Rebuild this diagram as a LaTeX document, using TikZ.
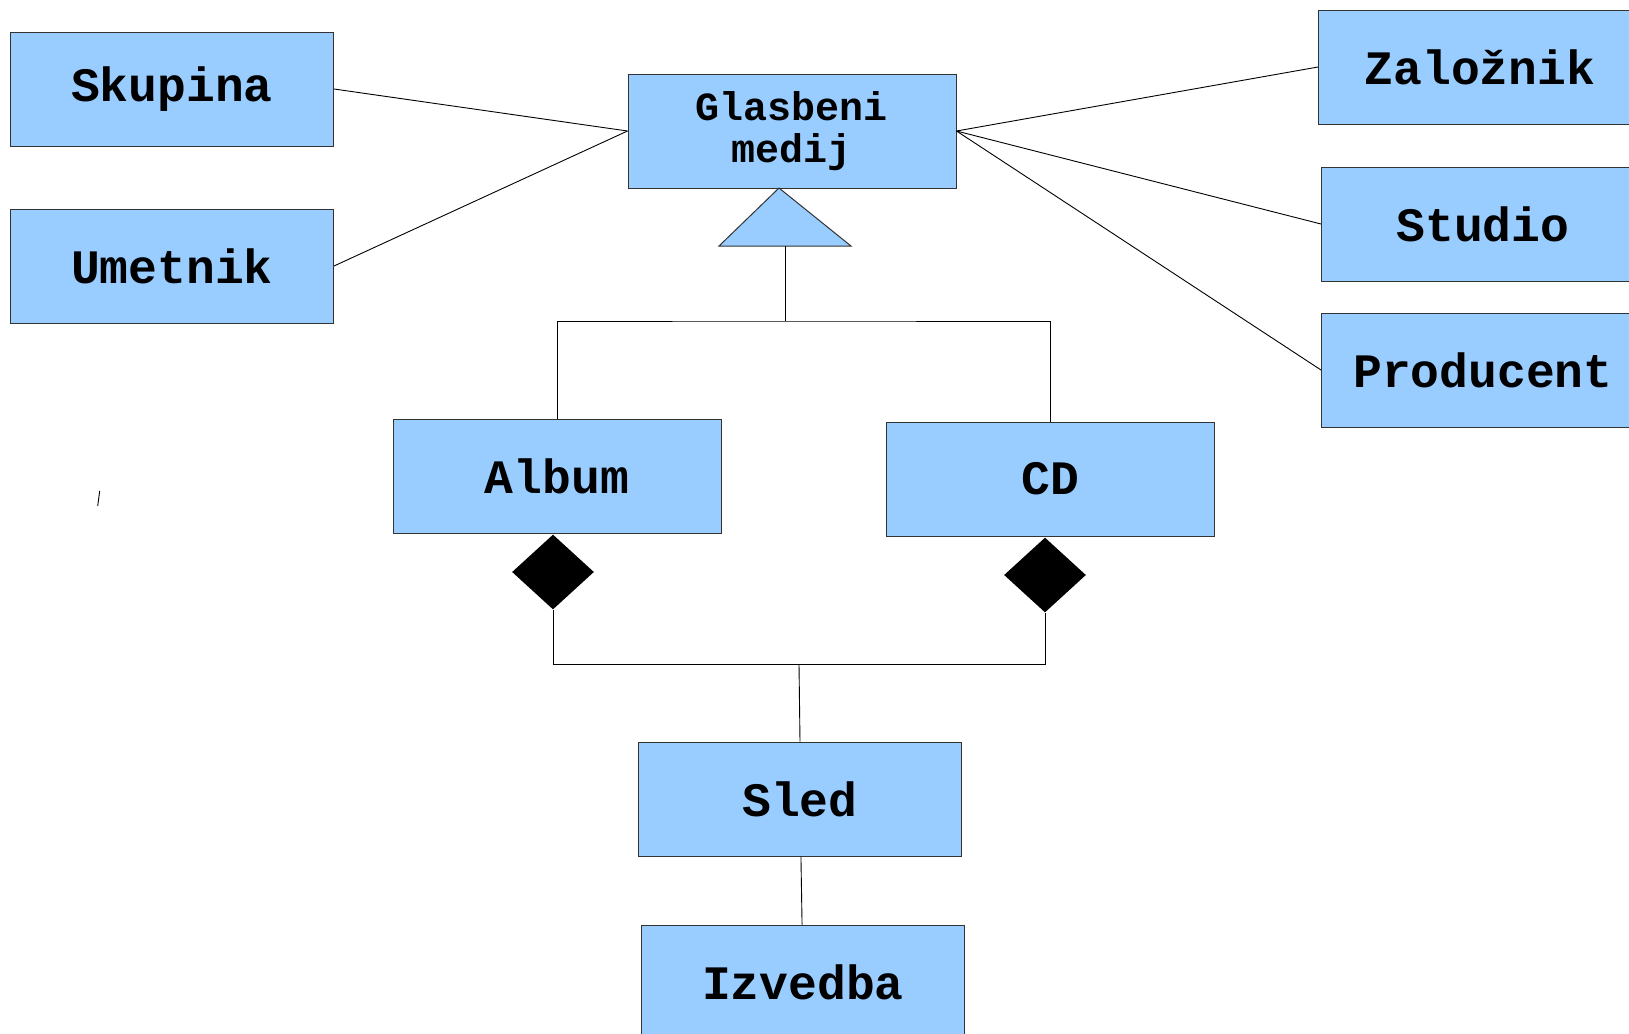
\documentclass[tikz,border=0pt]{standalone}
\usepackage{fontspec}
\setmonofont{Liberation Mono}
\usepackage{xcolor}
\usetikzlibrary{shapes.geometric}
\definecolor{boxblue}{HTML}{99CCFF}

\begin{document}
\begin{tikzpicture}[x=0.5pt,y=-0.5pt,
          entity/.style={draw=black!80,fill=boxblue,line width=0.5pt,
            minimum width=161.5pt,minimum height=57pt,inner sep=0pt,
            font=\ttfamily\bfseries\fontsize{24}{28}\selectfont,align=center},
          agg/.style={diamond,fill=black,inner sep=0pt,
            minimum width=41pt,minimum height=37.5pt},
          link/.style={line width=0.45pt}]
          \useasboundingbox (0,0) rectangle (1629,1034);
          \node[entity] (skupina) at (172,89) {Skupina};
          \node[entity] (umetnik) at (172,266) {Umetnik};
          \node[entity,minimum width=164pt,
            font=\ttfamily\bfseries\fontsize{20}{21}\selectfont] (medij) at (792,131) {Glasbeni\\medij};
          \node[entity,minimum width=164pt] (album) at (557,476) {Album};
          \node[entity,minimum width=164pt] (cd) at (1050,479) {CD};
          \node[entity] (sled) at (800,799) {Sled};
          \node[entity] (izvedba) at (803,982) {Izvedba};
          \node[entity] (zaloznik) at (1480,67) {Založnik};
          \node[entity] (studio) at (1483,224) {Studio};
          \node[entity] (producent) at (1483,370) {Producent};
          % associations
          \draw[link] (skupina.east) -- (medij.west);
          \draw[link] (umetnik.east) -- (medij.west);
          \draw[link] (medij.east) -- (zaloznik.west);
          \draw[link] (medij.east) -- (studio.west);
          \draw[link] (medij.east) -- (producent.west);
          % generalization
          \coordinate (tritop) at (779,188);
          \coordinate (tribase) at (785,246);
          \coordinate (gen) at (785,321);
          \draw[draw=black!80,fill=boxblue,line width=0.5pt] (tritop) -- (719,246) -- (851,246) -- cycle;
          \draw[link] (tribase) -- (gen);
          \draw[link] (album.north) |- (gen) -| (cd.north);
          % composition
          \node[agg] (dalbum) at (553,572) {};
          \node[agg] (dcd) at (1045,575) {};
          \coordinate (join) at (799,664);
          \draw[link] (dalbum.south) |- (join) -| (dcd.south);
          \draw[link] (join) -- (sled.north);
          \draw[link] (sled) -- (izvedba);
          \draw[link] (97.7,506) -- (99.7,491);
        \end{tikzpicture}
\end{document}
